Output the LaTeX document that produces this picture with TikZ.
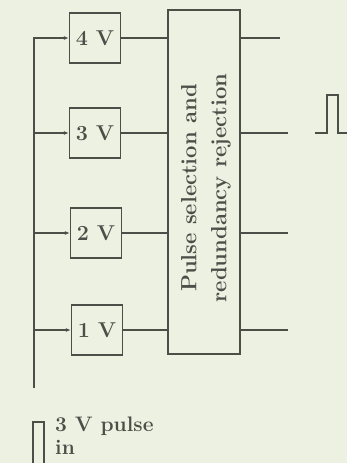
\documentclass[tikz,border=0pt]{standalone}
\usepackage{tikz}
\usetikzlibrary{arrows.meta,positioning,calc}

\definecolor{paper}{RGB}{236,241,226}
\definecolor{ink}{RGB}{74,80,72}
\tikzset{
  wire/.style={draw=ink,line width=1.3pt},
  vbox/.style={draw=ink,line width=1.3pt,minimum width=51pt,minimum height=50pt,
    inner sep=0pt,text=ink,font=\fontsize{21.5}{24}\selectfont\bfseries},
  selbox/.style={draw=ink,line width=1.3pt,minimum width=72pt,minimum height=344pt,inner sep=0pt},
  lbl/.style={text=ink,inner sep=0pt,font=\fontsize{22}{30}\selectfont\bfseries}
}

\begin{document}
\begin{tikzpicture}[x=1pt,y=-1pt,>={Latex[length=5pt,width=4pt]}]
  \fill[paper] (0,0) rectangle (347,463);
  \useasboundingbox (0,0) rectangle (347,463);
  \node[vbox] (v4) at (95,38) {4 V};
  \node[vbox] (v3) at (95,133) {3 V};
  \node[vbox] (v2) at (96,233) {2 V};
  \node[vbox] (v1) at (97,330) {1 V};
  \node[selbox] (sel) at (204,182) {};
  \node[lbl,rotate=90,align=center] (seltxt) at ([xshift=2pt,yshift=-6pt]sel.center) {Pulse selection and\\redundancy rejection};
  \coordinate (busbot) at (34,388);
  \coordinate (o4) at (280,38);
  \coordinate (o3) at (288,133);
  \coordinate (o2) at (288,233);
  \coordinate (o1) at (288,330);
  \draw[wire,->] (busbot) |- (v4);
  \foreach \v in {3,2,1} \draw[wire,->] (v\v.west -| busbot) -- (v\v.west);
  \foreach \v in {4,...,1} {
    \draw[wire] (v\v.east) -- (v\v.east -| sel.west);
    \draw[wire] (o\v -| sel.east) -- (o\v);
  }
  \draw[wire] (315,133) -- ++(12,0) -- ++(0,-38) -- ++(11,0) -- ++(0,38) -- (347,133);
  \draw[wire] (33,463) -- (33,422) -- (44,422) -- (44,463);
  \node[lbl,anchor=north west,align=left,font=\fontsize{21}{23}\selectfont\bfseries] (pin) at (55,417) {3 V pulse\\in};
\end{tikzpicture}
\end{document}
